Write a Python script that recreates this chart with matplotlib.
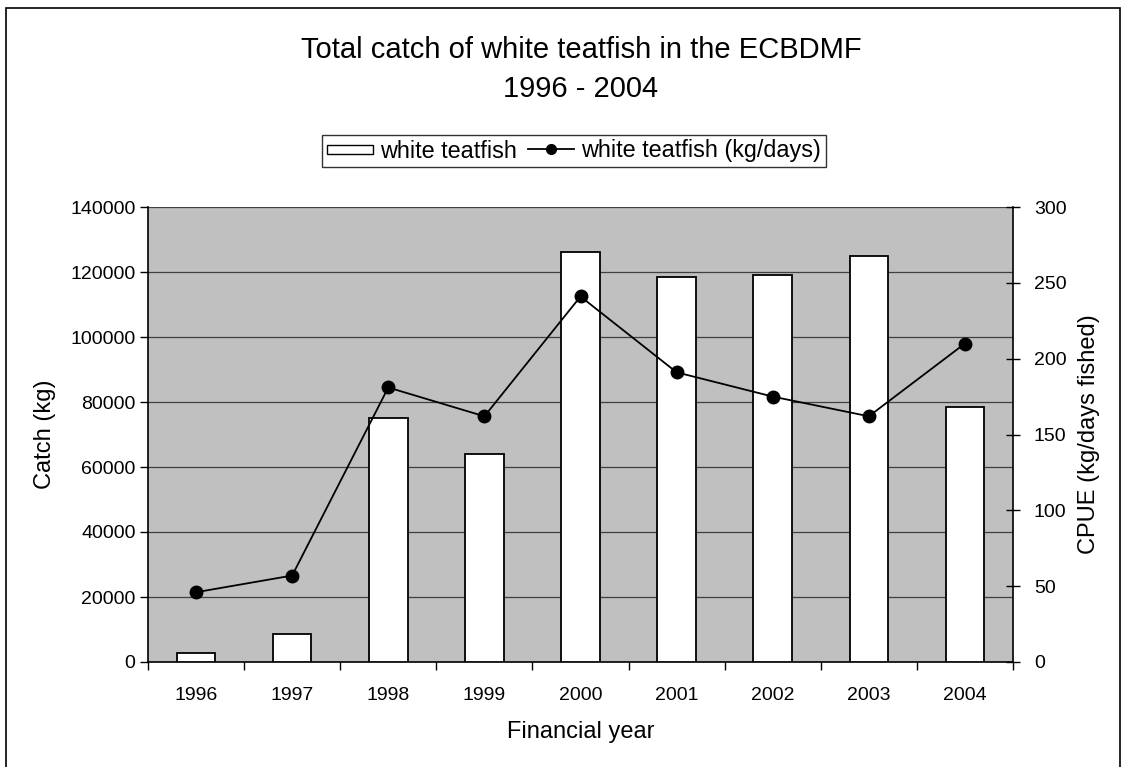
import matplotlib.pyplot as plt
from matplotlib.patches import Rectangle
from matplotlib.lines import Line2D
from matplotlib.legend_handler import HandlerPatch

plt.rcParams['font.family'] = ['Liberation Sans', 'DejaVu Sans']

years = ['1996', '1997', '1998', '1999', '2000', '2001', '2002', '2003', '2004']
catch_kg = [2900, 8500, 75200, 64000, 126300, 118600, 119100, 125000, 78600]
cpue = [46, 57, 181, 162, 241, 191, 175, 162, 210]

fig = plt.figure(figsize=(11.22, 7.67), dpi=100)

# outer chart frame (bottom edge runs off the page)
fig.patches.append(Rectangle((6 / 1122, -0.02), 1114 / 1122, 759 / 767 + 0.02,
                             transform=fig.transFigure, fill=False,
                             edgecolor='black', lw=1.2))

ax = fig.add_axes([148 / 1122, 105 / 767, 865 / 1122, 455 / 767])
ax.set_facecolor('#c0c0c0')
x = list(range(len(years)))
ax.bar(x, catch_kg, width=0.4, color='white', edgecolor='black', lw=1.3, zorder=3)
ax.set_xlim(-0.5, len(years) - 0.5)
ax.set_ylim(0, 140000)
ax.set_yticks(range(0, 140001, 20000))
ax.yaxis.grid(True, color='#404040', lw=0.9, zorder=1)
ax.set_axisbelow(True)
ax.set_xticks(x)
ax.set_xticklabels(years, fontsize=14)
ax.set_xticks([i - 0.5 for i in range(len(years) + 1)], minor=True)
ax.tick_params(axis='x', which='major', length=0, pad=18)
ax.tick_params(axis='x', which='minor', length=6, direction='out', width=1)
ax.tick_params(axis='y', labelsize=14, length=6, width=1, pad=3)
for s in ['top', 'right']:
    ax.spines[s].set_visible(False)
ax.spines['left'].set_lw(1.2)
ax.spines['bottom'].set_lw(1.2)
ax.set_ylabel('Catch (kg)', fontsize=17, labelpad=10)
ax.set_xlabel('Financial year', fontsize=17, labelpad=12)

ax2 = ax.twinx()
ax2.plot(x, cpue, color='black', lw=1.3, marker='o', markersize=9, zorder=4)
ax2.set_ylim(0, 300)
ax2.set_yticks(range(0, 301, 50))
ax2.tick_params(axis='y', labelsize=14, length=10, direction='inout', width=1, pad=10)
for s in ['top', 'left', 'bottom']:
    ax2.spines[s].set_visible(False)
ax2.spines['right'].set_lw(1.2)
ax2.set_ylabel('CPUE (kg/days fished)', fontsize=17, labelpad=8)

fig.text(581 / 1122, 1 - 50 / 767, 'Total catch of white teatfish in the ECBDMF',
         ha='center', va='center', fontsize=21)
fig.text(581 / 1122, 1 - 89 / 767, '1996 - 2004',
         ha='center', va='center', fontsize=21)


def flat_box(legend, orig_handle, xdescent, ydescent, width, height, fontsize):
    # thin white box for the bar series
    h = height * 0.55
    return Rectangle((-xdescent, -ydescent + (height - h) / 2), width, h)


handles = [Rectangle((0, 0), 1, 1, facecolor='white', edgecolor='black', lw=1.0),
           Line2D([], [], color='black', lw=1.3, marker='o', markersize=7)]
leg = fig.legend(handles, ['white teatfish', 'white teatfish (kg/days)'],
                 loc='center', bbox_to_anchor=(574 / 1122, 1 - 151 / 767),
                 ncol=2, fontsize=16.8, frameon=True, fancybox=False,
                 handlelength=2.0, handletextpad=0.3, columnspacing=0.45,
                 borderpad=0.2, borderaxespad=0,
                 handler_map={Rectangle: HandlerPatch(patch_func=flat_box)})
leg.get_frame().set_edgecolor('black')
leg.get_frame().set_linewidth(1.0)

fig.savefig('out.png', dpi=100)
